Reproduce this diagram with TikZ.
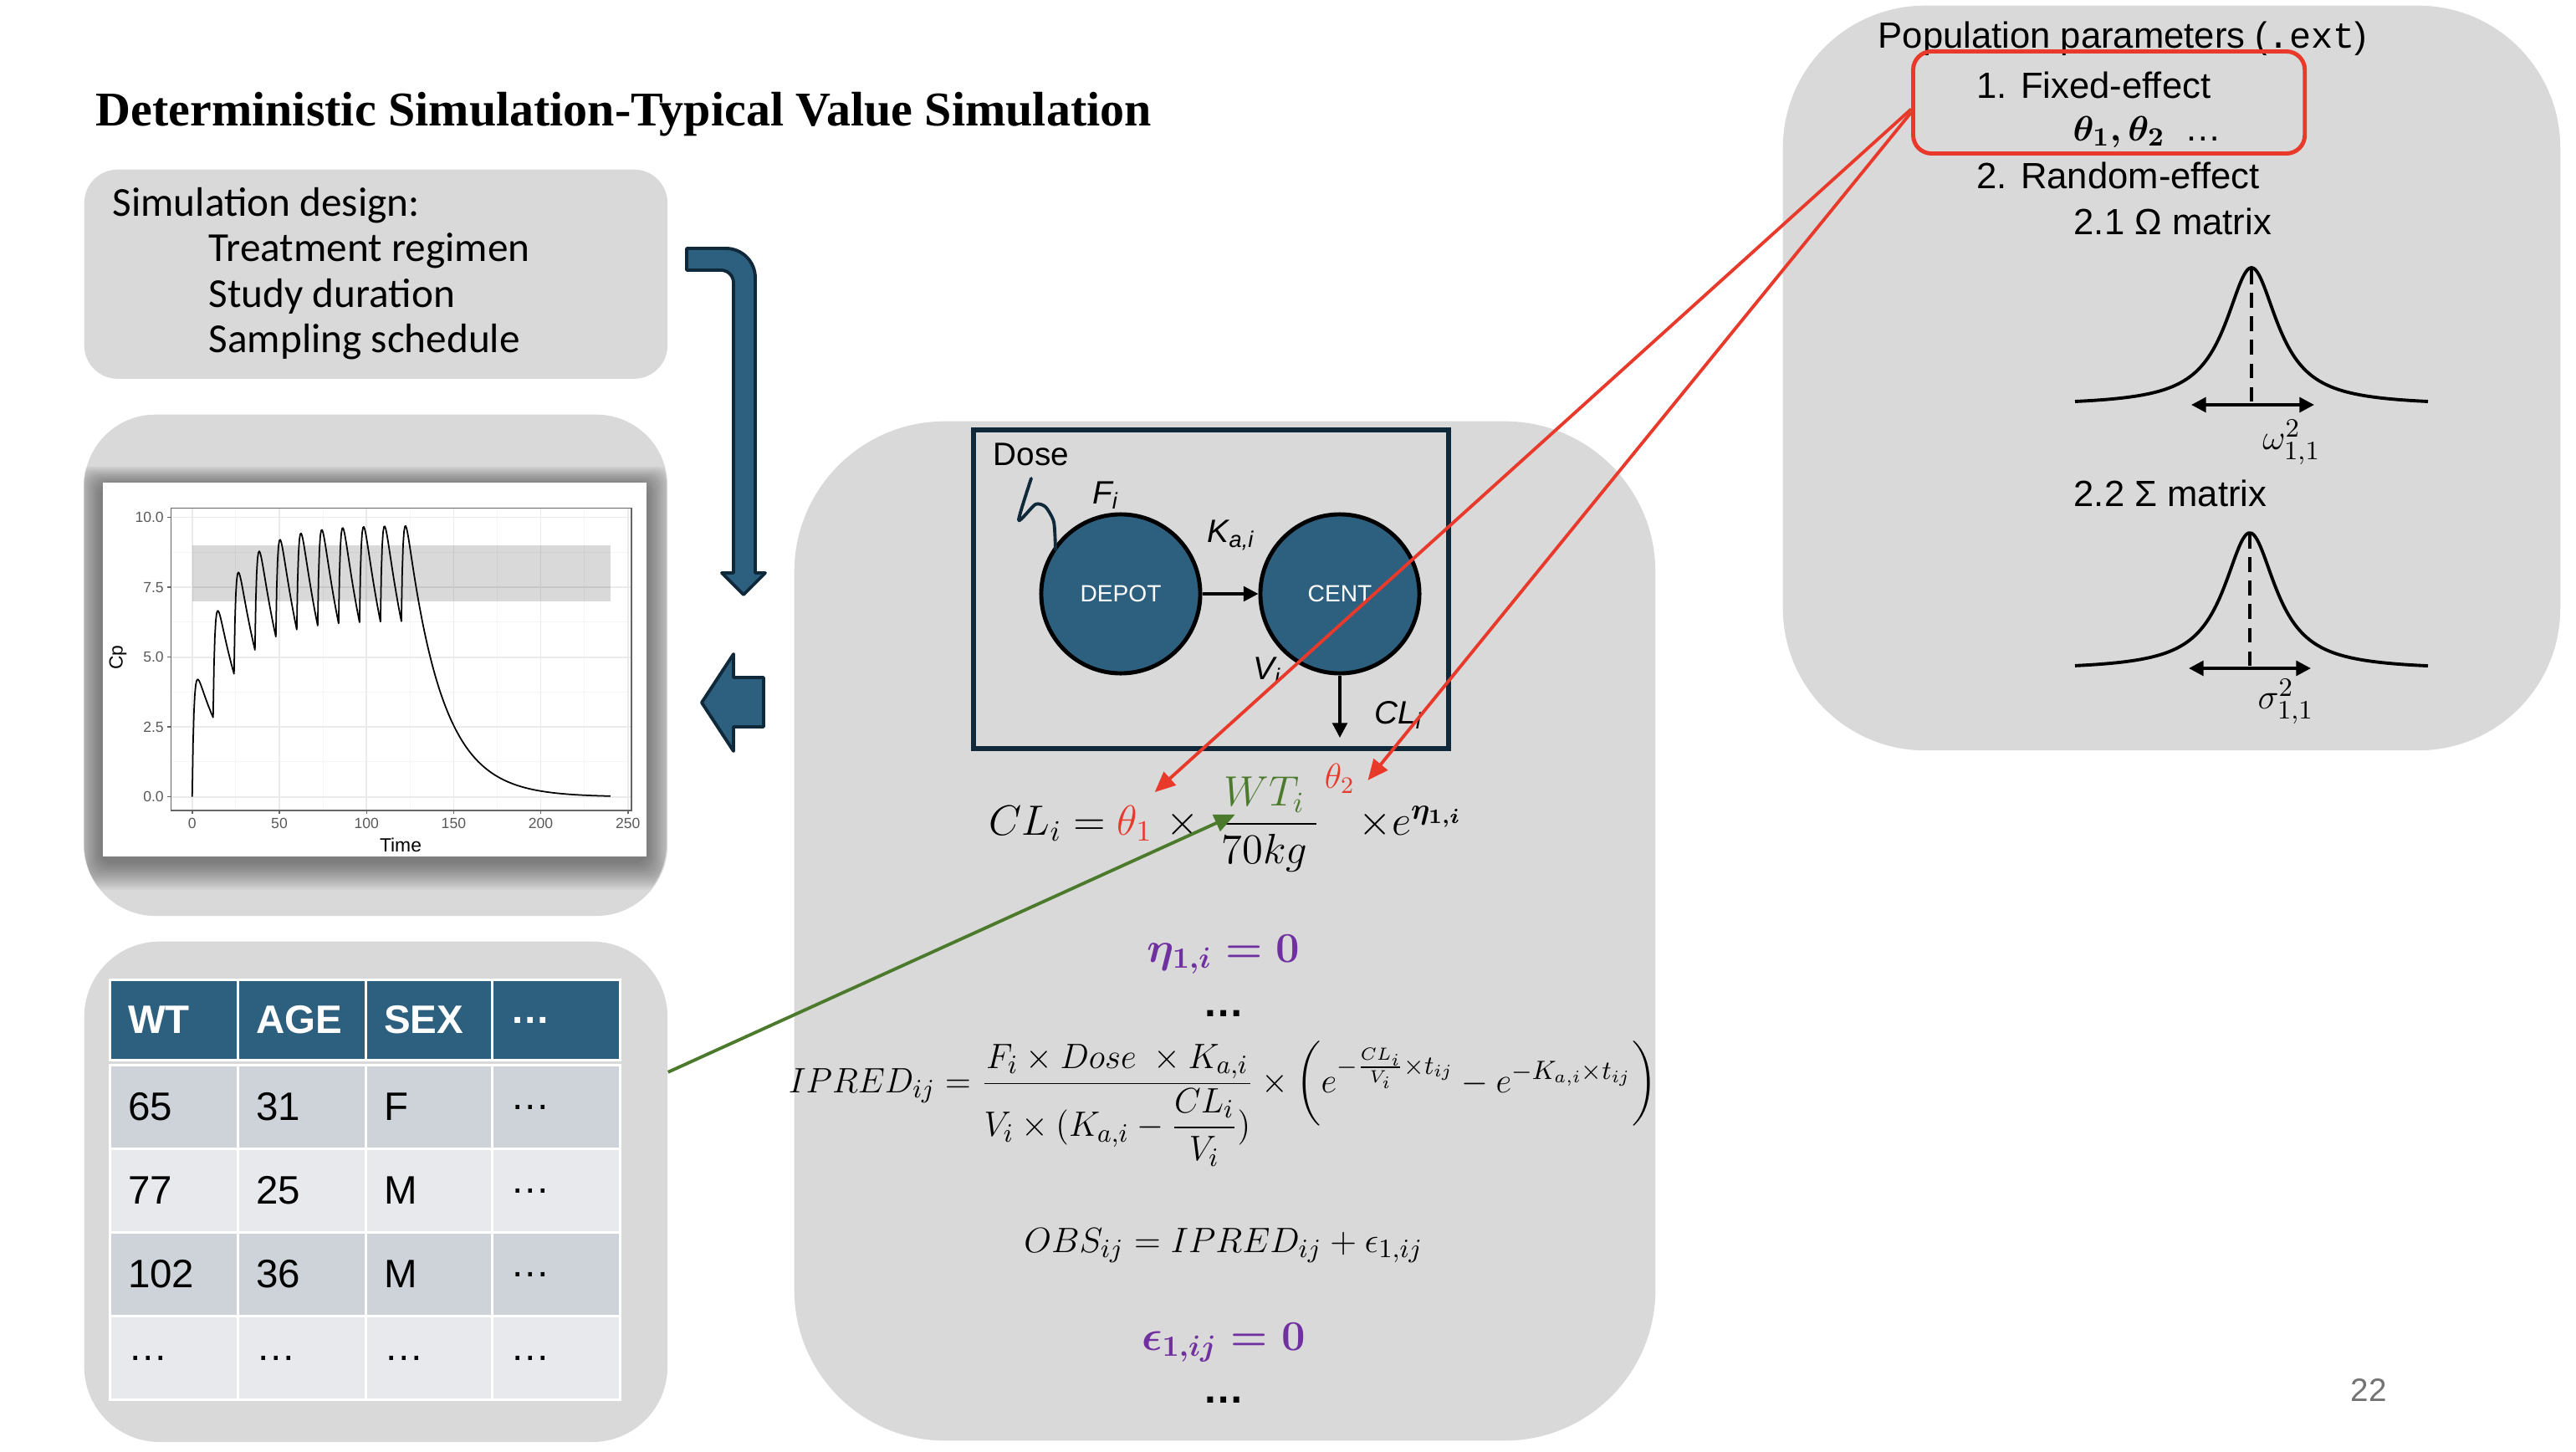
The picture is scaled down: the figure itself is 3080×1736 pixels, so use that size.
\documentclass[tikz,border=0pt]{standalone}
\usepackage{fontspec}
\usepackage{amsmath}
\usepackage{graphicx}
\setmainfont{Liberation Sans}
\setmonofont{Liberation Mono}
\newfontfamily\titlefont{Liberation Serif}
\newfontfamily\narrowfont{Carlito}
\usetikzlibrary{positioning,arrows.meta}

\definecolor{boxgray}{HTML}{D9D9D9}
\definecolor{pkblue}{HTML}{2D5F7E}
\definecolor{pkdark}{HTML}{10293A}
\definecolor{rowdark}{HTML}{CDD3D8}
\definecolor{rowlight}{HTML}{E8E9EC}
\definecolor{linkred}{HTML}{E8392B}
\definecolor{linkgreen}{HTML}{4B7A2C}
\definecolor{etapurple}{HTML}{7030A0}

\tikzset{
    graybox/.style={fill=boxgray, inner sep=0pt, anchor=north west},
    comp/.style={circle, draw=black, line width=1.4pt, fill=pkblue, minimum size=1.9cm,
        inner sep=0pt, text=white, font=\fontsize{8}{9}\selectfont},
    flow/.style={-{Triangle[length=5pt,width=5pt]}, line width=1pt},
    modlab/.style={inner sep=0pt, font=\fontsize{11}{13}\selectfont},
    eq/.style={inner sep=0pt, font=\fontsize{14}{17}\selectfont},
    eqmid/.style={inner sep=0pt, font=\fontsize{12.5}{15}\selectfont},
    eqbold/.style={inner sep=0pt, text=etapurple, font=\fontsize{14}{17}\selectfont},
    link/.style={-{Triangle[length=7pt,width=6pt]}, line width=1.1pt},
    designtext/.style={inner sep=0pt, anchor=west, font=\narrowfont\fontsize{14}{16}\selectfont},
    poptext/.style={inner sep=0pt, anchor=west, font=\fontsize{12.4}{14}\selectfont},
    hcell/.style={anchor=north west, minimum width=1.53cm, minimum height=0.96cm,
        text width=1.1cm, align=left, inner xsep=0.215cm, fill=pkblue, draw=white,
        line width=0.9pt, text=white, font=\bfseries\fontsize{13.5}{15}\selectfont},
    cell/.style={anchor=north west, minimum width=1.53cm, minimum height=1.0cm,
        text width=1.1cm, align=left, inner xsep=0.215cm, draw=white,
        line width=0.9pt, font=\fontsize{13.5}{15}\selectfont},
    gridmajor/.style={draw=black!8, line width=0.5pt},
    gridminor/.style={draw=black!4, line width=0.3pt},
    ticklab/.style={inner sep=0pt, text=black!65, font=\fontsize{5}{6}\selectfont},
    blockarrow/.style={fill=pkblue, draw=pkdark, line width=1.1pt, line join=round},
    bell/.style={line width=1.1pt},
    spread/.style={{Triangle[length=5pt,width=5pt]}-{Triangle[length=5pt,width=5pt]}, line width=1.1pt}
}

\begin{document}
\begin{tikzpicture}[x=0.01cm, y=-0.01cm,
    declare function={
        dd(\t,\n)=5.18*(exp(-0.05*max(\t-12*\n,0))-exp(-1*max(\t-12*\n,0)));
        cp(\t)=dd(\t,0)+dd(\t,1)+dd(\t,2)+dd(\t,3)+dd(\t,4)+dd(\t,5)+dd(\t,6)+dd(\t,7)+dd(\t,8)+dd(\t,9)+dd(\t,10);
    }]
\useasboundingbox (0,0) rectangle (3080,1736);

% Title
\node (title) [
    anchor=west,
    inner sep=0pt,
    font=\titlefont\bfseries\fontsize{16.5}{19}\selectfont
] at (114,137) {Deterministic Simulation-Typical Value Simulation};

%-------------------------------------
% Simulation design
\node (designbox) [graybox,
    minimum width=6.97cm,
    minimum height=2.5cm,
    rounded corners=0.4cm
] at (100,202) {};
\node (designhead) [designtext] at (134,246) {Simulation design:};
\node (regimen) [designtext] at (249,300) {Treatment regimen};
\node (duration) [designtext] at (249,354) {Study duration};
\node (sampling) [designtext] at (249,409) {Sampling schedule};

%-------------------------------------
% Plot
\node (plotbox) [graybox,
    minimum width=6.97cm,
    minimum height=5.99cm,
    rounded corners=0.85cm
] at (100,495) {};
\begin{scope}
    \clip [rounded corners=0.85cm] (100,495) rectangle (797,1094);
    \foreach \i in {1,...,14}
        \fill [black, opacity=0.035, rounded corners=0.15cm]
            ({122-2.3*\i},{580-1.6*\i}) rectangle ({772+2.3*\i},{1030+2.4*\i});
\end{scope}
\node (plotimg) [
    fill=white,
    anchor=north west,
    inner sep=0pt,
    minimum width=6.5cm,
    minimum height=4.47cm
] at (122,576) {};

\begin{scope}[shift={(229.8,952.7)}, x=0.020825cm, y=0.3339cm]
    \foreach \gx in {25,75,...,225}
        \draw [gridminor] (\gx,-0.49) -- (\gx,10.34);
    \foreach \gy in {1.25,3.75,6.25,8.75}
        \draw [gridminor] (-12,\gy) -- (252,\gy);
    \foreach \gx in {0,50,...,250}
        \draw [gridmajor] (\gx,-0.49) -- (\gx,10.34);
    \foreach \gy in {0,2.5,5,7.5,10}
        \draw [gridmajor] (-12,\gy) -- (252,\gy);
    \fill [black, opacity=0.15] (0,7) rectangle (240,9);
    \draw [black!60, line width=0.4pt] (-12,-0.49) rectangle (252,10.34);
    \foreach \gx in {0,50,...,250} {
        \draw [black!60, line width=0.4pt] (\gx,-0.49) -- (\gx,-0.62);
        \node (xt\gx) [ticklab, anchor=north] at (\gx,-0.75) {\gx};
    }
    \foreach \gy/\lab in {0/0.0,2.5/2.5,5/5.0,7.5/7.5,10/10.0} {
        \draw [black!60, line width=0.4pt] (-12,\gy) -- (-14.5,\gy);
        \node (yt\lab) [ticklab, anchor=east] at (-16,\gy) {\lab};
    }
    \draw [line width=0.5pt, line join=round] plot [domain=0:240, samples=481] (\x, {cp(\x)});
\end{scope}
\node (cplab) [rotate=90, inner sep=0pt, font=\fontsize{6.5}{8}\selectfont] at (141,786) {Cp};
\node (timelab) [inner sep=0pt, font=\fontsize{6.5}{8}\selectfont] at (479,1010) {Time};

%-------------------------------------
% Covariate table
\node (tabbox) [graybox,
    minimum width=6.97cm,
    minimum height=5.98cm,
    rounded corners=0.9cm
] at (100,1125) {};
\foreach \txt/\cx [count=\k] in {WT/130, AGE/283, SEX/436, \ldots/587}
    \node (head\k) [hcell] at (\cx,1170) {\txt};
\foreach \r/\rowc/\wt/\age/\sex in {0/rowdark/65/31/F, 1/rowlight/77/25/M,
        2/rowdark/102/36/M, 3/rowlight/\ldots/\ldots/\ldots} {
    \node (wt\r) [cell, fill=\rowc] at (130,{1272+100*\r}) {\wt};
    \node (age\r) [cell, fill=\rowc] at (283,{1272+100*\r}) {\age};
    \node (sex\r) [cell, fill=\rowc] at (436,{1272+100*\r}) {\sex};
    \node (more\r) [cell, fill=\rowc] at (587,{1272+100*\r}) {\ldots};
}

%-------------------------------------
% Block arrows
\draw [blockarrow] (821,297) -- (868,297) arc[start angle=-90, end angle=0, radius=35]
    -- (903,685) -- (915,685) -- (889,711) -- (863,685) -- (877,685)
    -- (877,338) arc[start angle=0, end angle=-90, radius=15] -- (821,323) -- cycle;
\draw [blockarrow] (839,840) -- (877,782) -- (877,810) -- (913,810)
    -- (913,869) -- (877,869) -- (877,898) -- cycle;

%-------------------------------------
% Model
\node (modelbox) [graybox,
    minimum width=10.29cm,
    minimum height=12.18cm,
    rounded corners=1.8cm
] at (949,503) {};
\node (compbox) [
    draw=pkdark,
    line width=1.7pt,
    anchor=north west,
    inner sep=0pt,
    minimum width=5.68cm,
    minimum height=3.81cm
] at (1161,511) {};
\node (depot) [comp] at (1340,710) {DEPOT};
\node (cent) [comp] at (1602,710) {CENT};
\coordinate (clout) at (1602,882);
\draw [flow] (depot) -- (cent);
\draw [flow] (cent) -- (clout);
\draw [pkdark, line width=1.1pt, line join=round, line cap=round]
    plot [smooth, tension=0.4] coordinates {(1233,572) (1218,622) (1238,603) (1250,606) (1260,624) (1262,657)};

\node (doselab) [modlab, anchor=west] at (1187,543) {Dose};
\node (flab) [modlab] at (1322,592) {\textit{F\textsubscript{i}}};
\node (kalab) [modlab] at (1472,640) {\textit{K\textsubscript{a,i}}};
\node (vlab) [modlab] at (1515,802) {\textit{V\textsubscript{i}}};
\node (cllab) [modlab] at (1672,855) {\textit{CL\textsubscript{i}}};

% CL equation
\node (cllhs) [eq, anchor=base west] at (1182,998) {$CL_i=$};
\node (th1) [eq, base right=0.12cm of cllhs, text=linkred] {$\theta_1$};
\node (clx) [eq, base right=0.15cm of th1] {$\times$};
\node (wtfrac) [eq, base right=0.1cm of clx] {$\dfrac{\;{\color{linkgreen}WT_i}\;}{70kg}$};
\node (th2) [eq, anchor=north west, text=linkred, font=\fontsize{12}{14}\selectfont]
    at ([xshift=0.04cm, yshift=0.16cm]wtfrac.north east) {$\theta_2$};
\node (cleta) [eq, base right=0.45cm of wtfrac] {$\times e^{\boldsymbol{\eta_{1,i}}}$};

% other equations
\node (etazero) [eqbold, anchor=base] at (1463,1150) {$\boldsymbol{\eta_{1,i}=0}$};
\node (dotsa) [eq, anchor=base] at (1463,1215) {\textbf{\ldots}};
\node (ipred) [eqmid, anchor=base] at (1462,1306)
    {\scalebox{0.97}[1]{$IPRED_{ij}=\dfrac{F_i\times Dose\ \times K_{a,i}}{V_i\times(K_{a,i}-\dfrac{CL_i}{V_i})}\times\left(e^{-\frac{CL_i}{V_i}\times t_{ij}}-e^{-K_{a,i}\times t_{ij}}\right)$}};
\node (obs) [eqmid, anchor=base] at (1463,1497)
    {$OBS_{ij}=IPRED_{ij}+\epsilon_{1,ij}$};
\node (epszero) [eqbold, anchor=base] at (1463,1614) {$\boldsymbol{\epsilon_{1,ij}=0}$};
\node (dotsb) [eq, anchor=base] at (1463,1677) {\textbf{\ldots}};

%-------------------------------------
% Population parameters
\node (popbox) [graybox,
    minimum width=9.29cm,
    minimum height=8.9cm,
    rounded corners=1.7cm
] at (2131,6) {};
\node (poptitle) [poptext] at (2245,46) {Population parameters (\texttt{.ext})};
\node (fixbox) [
    draw=linkred,
    line width=1.4pt,
    rounded corners=0.22cm,
    anchor=north west,
    inner sep=0pt,
    minimum width=4.68cm,
    minimum height=1.22cm
] at (2285,59) {};
\node (fixed) [poptext] at (2363,102) {1. Fixed-effect};
\node (thetas) [poptext] at (2478,158) {$\boldsymbol{\theta_1,\theta_2}$\ \ \ldots};
\node (random) [poptext] at (2363,210) {2. Random-effect};
\node (omegamat) [poptext] at (2479,265) {2.1 Ω matrix};
\node (sigmamat) [poptext] at (2479,590) {2.2 Σ matrix};

\draw [bell] plot [domain=2481:2903, samples=121, smooth]
    (\x, {480-160*(1/(1+((\x-2692)/38)^2)-0.0314)/0.9686});
\draw [bell, dashed, dash pattern=on 5pt off 3pt] (2692,322) -- (2692,480);
\draw [spread] (2620,484) -- (2767,484);
\node (omegalab) [eqmid] at (2740,529) {$\omega_{1,1}^2$};

\draw [bell] plot [domain=2481:2903, samples=121, smooth]
    (\x, {796-159*(1/(1+((\x-2690)/38)^2)-0.0314)/0.9686});
\draw [bell, dashed, dash pattern=on 5pt off 3pt] (2690,638) -- (2690,796);
\draw [spread] (2617,799) -- (2763,799);
\node (sigmalab) [eqmid] at (2733,839) {$\sigma_{1,1}^2$};

\node (pagenum) [text=black!55, font=\fontsize{11}{13}\selectfont] at (2832,1662) {22};

%-------------------------------------
% Links
\draw [link, linkred] ([yshift=-0.08cm]fixbox.west) -- ([shift={(0.02cm,0.15cm)}]th1.north east);
\draw [link, linkred] ([yshift=-0.12cm]fixbox.west) -- ([shift={(0.15cm,-0.02cm)}]th2.east);
\coordinate (wtin) at ([xshift=-0.35cm, yshift=0.12cm]wtfrac.center);
\draw [link, linkgreen] ([yshift=1.43cm]tabbox.east) -- (wtin);

\end{tikzpicture}
\end{document}
